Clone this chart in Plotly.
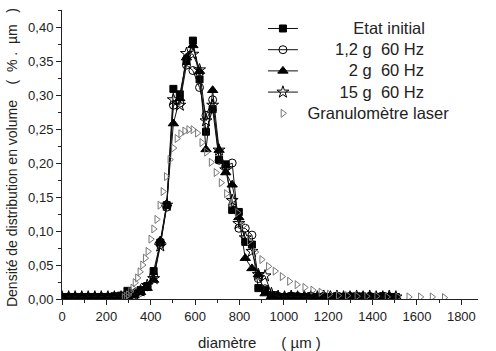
import plotly.graph_objects as go

# Diameter grid of the vibration (sieve) measurements, µm
x_exp = [0, 30, 59, 89, 118, 148, 177, 207, 236, 266, 295, 325, 354, 384, 413, 443,
         472, 502, 531, 561, 590, 620, 649, 679, 708, 738, 767, 797, 826, 856, 885,
         915, 944, 974, 1003, 1033, 1062, 1092, 1121, 1151, 1180, 1210, 1239, 1269,
         1298, 1328, 1357, 1387, 1416, 1446, 1475, 1505]

etat_initial = [0.003, 0.003, 0.003, 0.003, 0.003, 0.003, 0.003, 0.003, 0.004, 0.005,
                0.012, 0.008, 0.013, 0.019, 0.041, 0.083, 0.138, 0.309, 0.301, 0.350,
                0.380, 0.323, 0.246, 0.279, 0.205, 0.198, 0.131, 0.128, 0.084, 0.080,
                0.016, 0.013, 0.005, 0.003, 0.003, 0.004, 0.003, 0.003, 0.004, 0.003,
                0.003, 0.003, 0.004, 0.003, 0.003, 0.004, 0.003, 0.003, 0.003, 0.004,
                0.003, 0.003]

g12_60hz = [0.003, 0.003, 0.003, 0.003, 0.003, 0.003, 0.003, 0.003, 0.003, 0.003,
            0.005, 0.004, 0.010, 0.018, 0.035, 0.080, 0.135, 0.285, 0.288, 0.344,
            0.336, 0.311, 0.270, 0.293, 0.204, 0.195, 0.200, 0.104, 0.104, 0.094,
            0.030, 0.015, 0.006, 0.004, 0.003, 0.004, 0.004, 0.003, 0.004, 0.003,
            0.004, 0.003, 0.004, 0.003, 0.004, 0.003, 0.004, 0.004, 0.003, 0.004,
            0.003, 0.003]

g2_60hz = [0.003, 0.003, 0.003, 0.003, 0.003, 0.003, 0.003, 0.003, 0.003, 0.003,
           0.003, 0.005, 0.010, 0.016, 0.028, 0.086, 0.140, 0.258, 0.295, 0.355,
           0.373, 0.335, 0.220, 0.307, 0.219, 0.186, 0.168, 0.120, 0.060, 0.045,
           0.036, 0.008, 0.004, 0.003, 0.003, 0.004, 0.003, 0.003, 0.004, 0.003,
           0.003, 0.004, 0.003, 0.003, 0.004, 0.003, 0.003, 0.004, 0.003, 0.003,
           0.004, 0.003]

g15_60hz = [0.003, 0.003, 0.003, 0.003, 0.003, 0.003, 0.003, 0.003, 0.003, 0.003,
            0.004, 0.006, 0.012, 0.020, 0.030, 0.078, 0.138, 0.293, 0.285, 0.361,
            0.360, 0.337, 0.262, 0.285, 0.219, 0.190, 0.145, 0.111, 0.090, 0.070,
            0.036, 0.034, 0.008, 0.004, 0.003, 0.004, 0.003, 0.004, 0.003, 0.003,
            0.004, 0.003, 0.004, 0.003, 0.003, 0.004, 0.003, 0.004, 0.003, 0.003,
            0.004, 0.003]

# Laser granulometer (log-spaced bins)
x_laser = [280, 289, 299, 309, 319, 329, 340, 351, 363, 375, 387, 400, 413, 427, 441,
           455, 470, 486, 502, 518, 535, 553, 571, 590, 610, 630, 651, 672, 694, 717,
           741, 765, 791, 817, 844, 871, 900, 930, 960, 992, 1025, 1059, 1094, 1130,
           1167, 1205, 1245, 1286, 1329, 1373, 1418, 1465, 1513, 1563, 1615, 1668, 1723]
laser = [0.002, 0.004, 0.006, 0.011, 0.016, 0.024, 0.031, 0.040, 0.050, 0.060, 0.070,
         0.088, 0.103, 0.117, 0.138, 0.158, 0.180, 0.205, 0.222, 0.236, 0.243, 0.247,
         0.249, 0.249, 0.244, 0.230, 0.216, 0.201, 0.186, 0.171, 0.155, 0.141, 0.127,
         0.108, 0.085, 0.069, 0.058, 0.048, 0.041, 0.033, 0.026, 0.021, 0.017, 0.013,
         0.010, 0.007, 0.005, 0.005, 0.004, 0.004, 0.004, 0.003, 0.003, 0.003, 0.003,
         0.003, 0.002]

NB = "\u00a0"
SPAN = "<span style='font-size:16.5px'>{}</span>"
names = [SPAN.format(NB * 11 + "Etat initial"),
         SPAN.format(NB * 7 + "1,2 g" + NB * 2 + "60 Hz"),
         SPAN.format(NB * 10 + "2 g" + NB * 2 + "60 Hz"),
         SPAN.format(NB * 8 + "15 g" + NB * 2 + "60 Hz"),
         SPAN.format(NB + "Granulomètre laser")]

fig = go.Figure()
series = [(etat_initial, "square", 7), (g12_60hz, "circle-open", 8),
          (g2_60hz, "triangle-up", 9), (g15_60hz, "star-open", 9)]
for (ys, sym, sz), nm in zip(series, names[:4]):
    fig.add_trace(go.Scatter(
        x=x_exp, y=ys, name=nm, mode="lines+markers",
        line=dict(color="#111", width=1),
        marker=dict(symbol=sym, size=sz, color="#000",
                    line=dict(color="#000", width=1)),
    ))
fig.add_trace(go.Scatter(
    x=x_laser, y=laser, name=names[4], mode="markers",
    marker=dict(symbol="triangle-right-open", size=7, color="#777",
                line=dict(color="#777", width=1)),
))

axis_common = dict(
    showgrid=False, zeroline=False, showline=True, linecolor="#222", linewidth=1,
    ticks="outside", ticklen=5, tickcolor="#222", tickwidth=1,
    tickfont=dict(family="Liberation Sans, Arial", size=13, color="#222"),
    mirror=False,
)
fig.update_xaxes(range=[0, 1875], dtick=200, tick0=0,
                 minor=dict(dtick=100, ticks="outside", ticklen=3, tickcolor="#222"),
                 **axis_common)
fig.update_yaxes(range=[0, 0.425], dtick=0.05, tick0=0, tickformat=".2f",
                 minor=dict(dtick=0.025, ticks="outside", ticklen=3, tickcolor="#222"),
                 **axis_common)

fig.add_annotation(
    text="Densité de distribution en volume" + NB * 4 + "(" + NB * 2 + "%" + NB + "." + NB * 2 + "µm" + NB * 3 + ")",
    xref="paper", yref="paper", x=-0.12, y=0.488, textangle=-90, showarrow=False,
    font=dict(family="Liberation Sans, Arial", size=14, color="#222"),
    xanchor="center", yanchor="middle")
fig.add_annotation(
    text="diamètre" + NB * 6 + "(" + NB + "µm" + NB + ")",
    xref="paper", yref="paper", x=0.475, y=-0.149, showarrow=False,
    font=dict(family="Liberation Sans, Arial", size=15, color="#222"),
    xanchor="center", yanchor="middle")

fig.update_layout(
    width=496, height=351,
    margin=dict(l=62, r=18, t=10, b=52),
    paper_bgcolor="white", plot_bgcolor="white",
    separators=", ",
    font=dict(family="Liberation Sans, Arial", color="#222"),
    legend=dict(x=0.483, y=0.99, xanchor="left", yanchor="top",
                bgcolor="rgba(0,0,0,0)", borderwidth=0,
                font=dict(family="Liberation Sans, Arial", size=14, color="#222")),
)

fig.write_html("out.html")
